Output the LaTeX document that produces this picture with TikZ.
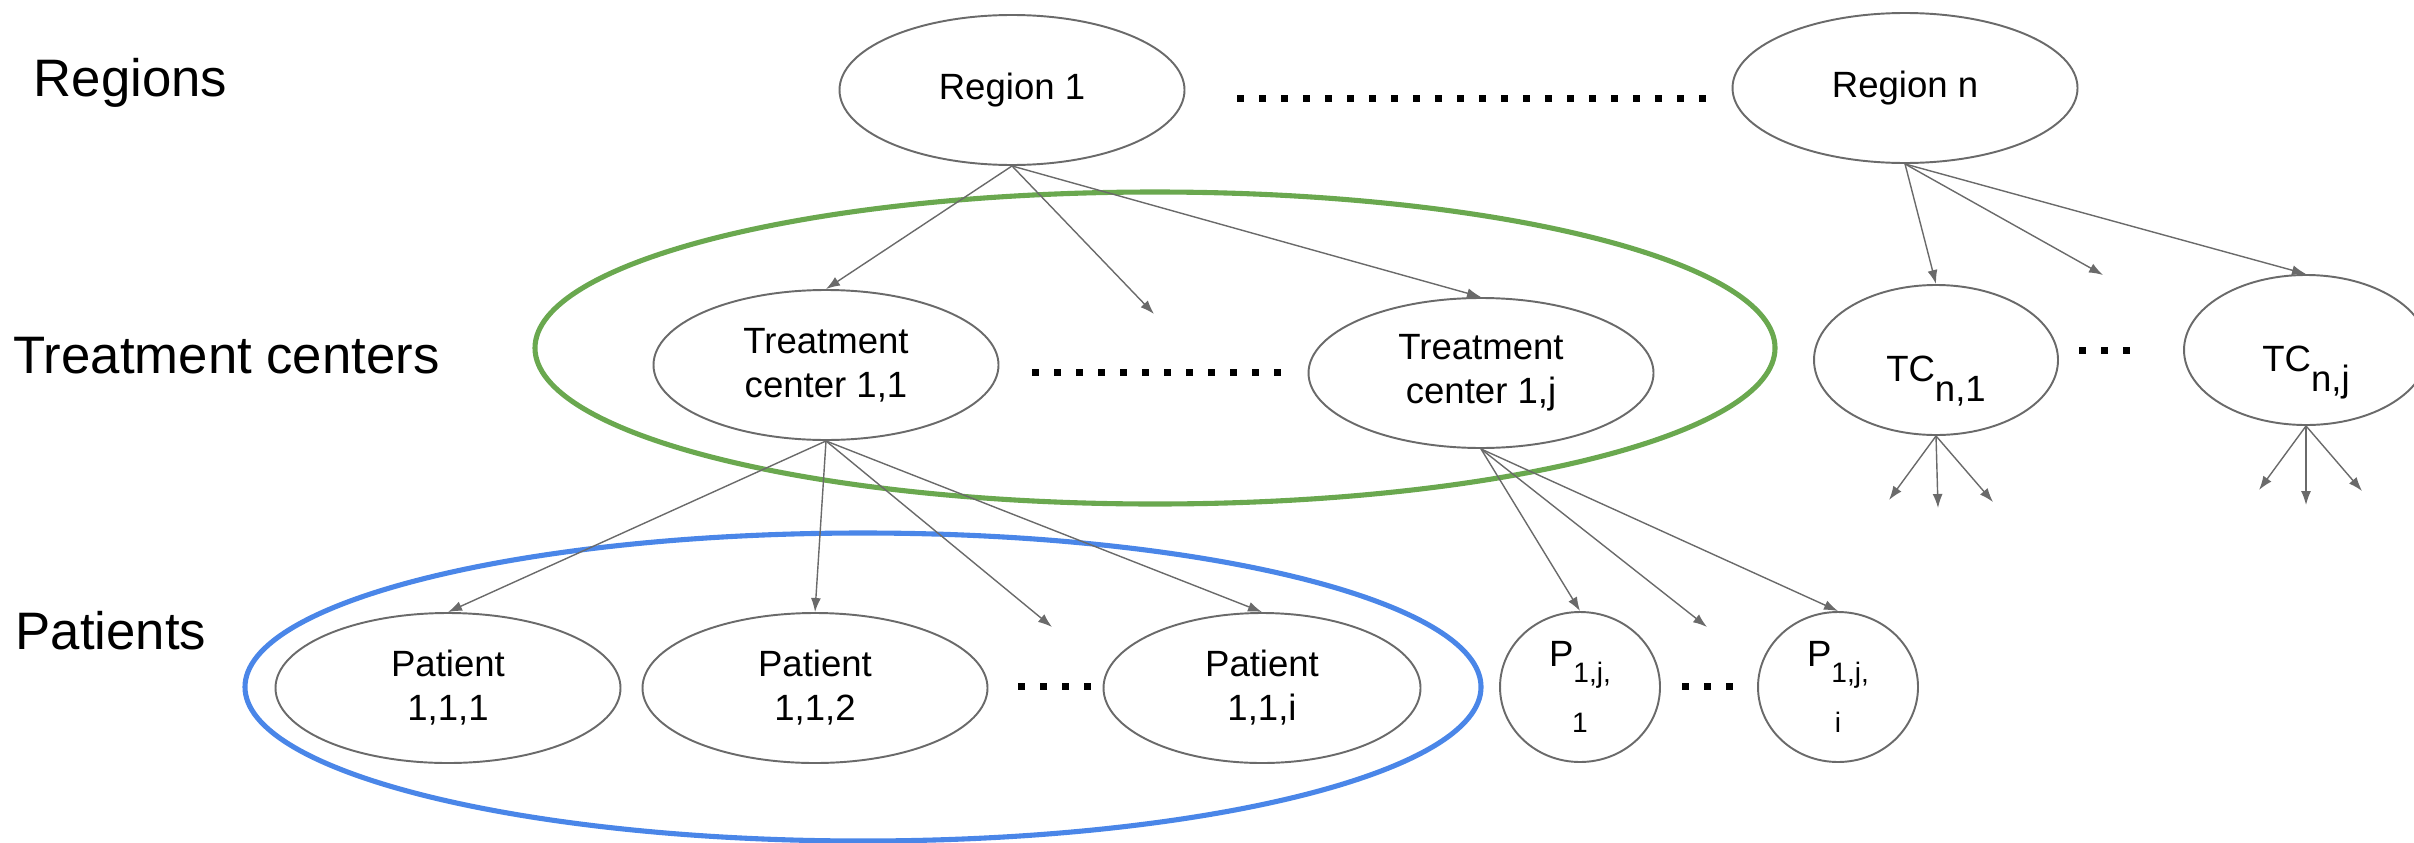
\documentclass[tikz,border=0pt]{standalone}
\usepackage{fontspec}
\setmainfont{Liberation Sans}
\usetikzlibrary{shapes.geometric,arrows.meta}
\definecolor{edgegray}{HTML}{6A6A6A}
\definecolor{groupgreen}{HTML}{6AA84F}
\definecolor{groupblue}{HTML}{4A86E8}

\begin{document}
\begin{tikzpicture}[
	entity/.style={ellipse, draw=edgegray, line width=0.55pt, inner sep=0pt,
		minimum width=3.45cm, minimum height=1.5cm, align=center,
		font=\fontsize{10.4pt}{12.5pt}\selectfont},
	rowlabel/.style={anchor=base west, inner sep=0pt,
		font=\fontsize{15pt}{18pt}\selectfont},
	link/.style={draw=edgegray, line width=0.4pt,
		-{Latex[length=0.14cm,width=0.1cm]}},
	dotrow/.style={line width=0.07cm, dash pattern=on 0.07cm off 0.15cm},
	ring/.style={line width=1.45pt}
	]
	\useasboundingbox (0, 0) rectangle (24.14, 8.42);
	% Row labels:
	\node[rowlabel] (lregions) at (0.33, 7.46) {Regions};
	\node[rowlabel] (lcenters) at (0.13, 4.69) {Treatment centers};
	\node[rowlabel] (lpatients) at (0.15, 1.93) {Patients};
	% Groups:
	\draw[groupgreen, ring] (11.55, 4.94) ellipse (6.20 and 1.56);
	\draw[groupblue, ring] (8.63, 1.55) ellipse (6.18 and 1.54);
	% Regions:
	\node[entity] (region1) at (10.12, 7.52) {Region 1};
	\node[entity] (regionn) at (19.05, 7.54) {Region n};
	\draw[dotrow] (12.37, 7.44) -- (17.06, 7.44);
	% Treatment centers:
	\node[entity] (tc11) at (8.26, 4.77) {Treatment\\center 1,1};
	\node[entity] (tc1j) at (14.81, 4.69) {Treatment\\center 1,j};
	\draw[dotrow] (10.32, 4.70) -- (12.81, 4.70);
	\node[entity, minimum width=2.44cm, text height=0.42cm, text depth=0cm]
		(tcn1) at (19.36, 4.82) {TC\raisebox{-0.2cm}[0pt][0pt]{n,1}};
	\node[entity, minimum width=2.44cm, text height=0.42cm, text depth=0cm]
		(tcnj) at (23.06, 4.92) {TC\raisebox{-0.2cm}[0pt][0pt]{n,j}};
	\draw[dotrow] (20.79, 4.92) -- (21.30, 4.92);
	% Patients:
	\node[entity] (p111) at (4.48, 1.54) {Patient\\1,1,1};
	\node[entity] (p112) at (8.15, 1.54) {Patient\\1,1,2};
	\node[entity, minimum width=3.17cm] (p11i) at (12.62, 1.54) {Patient\\1,1,i};
	\draw[dotrow] (10.18, 1.56) -- (10.91, 1.56);
	\node[entity, minimum width=1.6cm] (p1j1) at (15.80, 1.55)
		{P\raisebox{-0.16cm}{\fontsize{8pt}{9pt}\selectfont 1,j,}\\[0.22cm]
		{\fontsize{8pt}{9pt}\selectfont 1}};
	\node[entity, minimum width=1.6cm] (p1ji) at (18.38, 1.55)
		{P\raisebox{-0.16cm}{\fontsize{8pt}{9pt}\selectfont 1,j,}\\[0.22cm]
		{\fontsize{8pt}{9pt}\selectfont i}};
	\draw[dotrow] (16.82, 1.56) -- (17.33, 1.56);
	% Loose arrow ends:
	\coordinate (r1free) at (11.54, 5.28);
	\coordinate (rnfree) at (21.03, 5.67);
	\coordinate (tc11free) at (10.52, 2.15);
	\coordinate (tc1jfree) at (17.07, 2.15);
	\coordinate (tcn1a) at (18.89, 3.42);
	\coordinate (tcn1b) at (19.38, 3.34);
	\coordinate (tcn1c) at (19.93, 3.40);
	\coordinate (tcnja) at (22.59, 3.52);
	\coordinate (tcnjb) at (23.06, 3.37);
	\coordinate (tcnjc) at (23.62, 3.51);
	% Arrows:
	\draw[link] (region1.south) -- (tc11.north);
	\draw[link] (region1.south) -- (r1free);
	\draw[link] (region1.south) -- (tc1j.north);
	\draw[link] (regionn.south) -- (tcn1.north);
	\draw[link] (regionn.south) -- (rnfree);
	\draw[link] (regionn.south) -- (tcnj.north);
	\draw[link] (tc11.south) -- (p111.north);
	\draw[link] (tc11.south) -- (p112.north);
	\draw[link] (tc11.south) -- (tc11free);
	\draw[link] (tc11.south) -- (p11i.north);
	\draw[link] (tc1j.south) -- (p1j1.north);
	\draw[link] (tc1j.south) -- (tc1jfree);
	\draw[link] (tc1j.south) -- (p1ji.north);
	\draw[link] (tcn1.south) -- (tcn1a);
	\draw[link] (tcn1.south) -- (tcn1b);
	\draw[link] (tcn1.south) -- (tcn1c);
	\draw[link] (tcnj.south) -- (tcnja);
	\draw[link] (tcnj.south) -- (tcnjb);
	\draw[link] (tcnj.south) -- (tcnjc);
\end{tikzpicture}
\end{document}
